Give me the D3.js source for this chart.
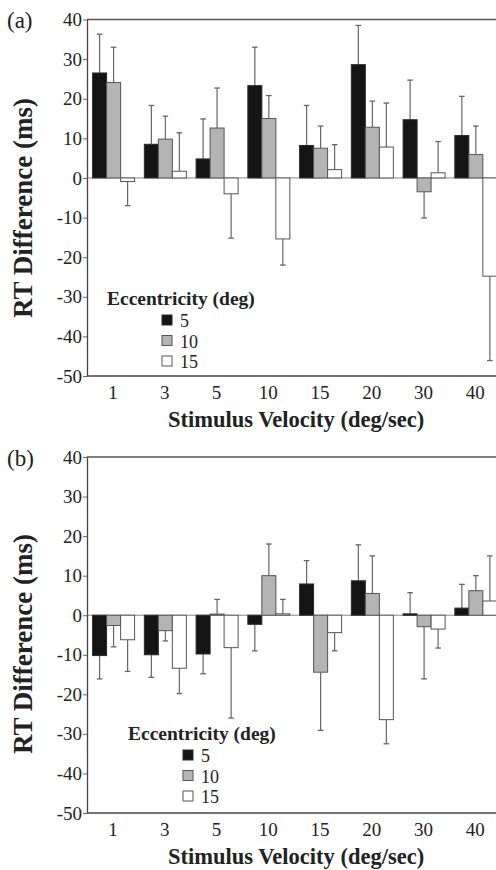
<!DOCTYPE html>
<html>
<head>
<meta charset="utf-8">
<script src="https://cdn.jsdelivr.net/npm/d3@7"></script>
<style>
  body { margin: 0; background: #fff; }
  svg text { font-family: "Liberation Serif", "Times New Roman", serif; }
  .tick text { font-size: 19px; fill: #222; }
  .axis-title { font-size: 22.5px; font-weight: bold; fill: #222; }
  .y-title { font-size: 27px; }
  .legend-title { font-size: 19.5px; font-weight: bold; fill: #222; }
  .legend-text { font-size: 18px; fill: #222; }
  .panel-label { font-size: 23px; fill: #222; }
</style>
</head>
<body>
<svg id="chart"></svg>
<script>
const velocities = ["1", "3", "5", "10", "15", "20", "30", "40"];
const eccentricities = ["5", "10", "15"];
const yTicks = [40, 30, 20, 10, 0, -10, -20, -30, -40, -50];

// panel (a) means and error sizes
const a5 = [26.5, 8.5, 4.8, 23.3, 8.2, 28.6, 14.7, 10.7];
const a10 = [24.1, 9.8, 12.6, 15.0, 7.5, 12.8, -3.5, 5.9];
const a15 = [-0.9, 1.7, -4.0, -15.4, 2.1, 7.8, 1.3, -24.8];
const aErr5 = [9.8, 9.8, 10.1, 9.7, 10.1, 9.9, 10.0, 9.9];
const aErr10 = [8.9, 5.8, 10.1, 5.8, 5.6, 6.6, 6.6, 7.2];
const aErr15 = [6.1, 9.7, 11.2, 6.6, 6.3, 11.1, 7.9, 21.3];

// panel (b)
const b5 = [-10.2, -10.0, -9.8, -2.3, 7.9, 8.7, 0.35, 1.8];
const b10 = [-2.6, -3.9, 0.3, 10.0, -14.4, 5.5, -2.9, 6.2];
const b15 = [-6.2, -13.4, -8.2, 0.35, -4.4, -26.4, -3.5, 3.6];
const bErr5 = [5.9, 5.7, 5.0, 6.7, 5.9, 9.1, 5.35, 6.0];
const bErr10 = [5.4, 2.6, 3.7, 8.0, 14.7, 9.5, 13.2, 3.8];
const bErr15 = [8.0, 6.4, 17.8, 3.65, 4.6, 6.1, 4.8, 11.4];

const colors = {"5": "#141414", "10": "#b4b4b4", "15": "#ffffff"};
const strokes = {"5": "#2a2a2a", "10": "#555", "15": "#555"};

const width = 496, height = 870;
const svg = d3.select("#chart").attr("width", width).attr("height", height);

function buildRows(means, errs) {
  const rows = [];
  velocities.forEach((v, i) => {
    eccentricities.forEach((e, j) => {
      rows.push({vel: v, ecc: e, value: means[j][i], err: errs[j][i]});
    });
  });
  return rows;
}

function drawPanel(opts) {
  const left = 87, right = 501;
  const g = svg.append("g");

  const x0 = d3.scaleBand().domain(velocities).range([left, right]);
  const x1 = d3.scaleBand().domain(eccentricities).range([5.6, 47.6]);
  const y = d3.scaleLinear().domain([-50, 40]).range([opts.bottom, opts.top]);

  const rows = buildRows(opts.means, opts.errs);

  // frame top
  g.append("line")
    .attr("x1", left).attr("x2", width)
    .attr("y1", y(40)).attr("y2", y(40))
    .attr("stroke", "#555").attr("stroke-width", 1.3);

  // zero line
  g.append("line")
    .attr("x1", left).attr("x2", width)
    .attr("y1", y(0)).attr("y2", y(0))
    .attr("stroke", "#888").attr("stroke-width", 1);

  // error bars (one sided, away from zero)
  const tip = d => y(d.value >= 0 ? d.value + d.err : d.value - d.err);
  const cx = d => x0(d.vel) + x1(d.ecc) + x1.bandwidth() / 2;
  const eb = g.selectAll(".err").data(rows).enter().append("g").attr("class", "err");
  eb.append("line")
    .attr("x1", cx).attr("x2", cx)
    .attr("y1", d => y(d.value))
    .attr("y2", tip)
    .attr("stroke", "#666").attr("stroke-width", 1.2);
  eb.append("line")
    .attr("x1", d => cx(d) - 2.8)
    .attr("x2", d => cx(d) + 2.8)
    .attr("y1", tip).attr("y2", tip)
    .attr("stroke", "#666").attr("stroke-width", 1.3);

  // bars
  g.selectAll(".bar").data(rows).enter().append("rect")
    .attr("class", "bar")
    .attr("x", d => x0(d.vel) + x1(d.ecc))
    .attr("width", x1.bandwidth())
    .attr("y", d => y(Math.max(0, d.value)))
    .attr("height", d => Math.abs(y(d.value) - y(0)))
    .attr("fill", d => colors[d.ecc])
    .attr("stroke", d => strokes[d.ecc])
    .attr("stroke-width", 1);

  // axes
  const yAxis = d3.axisLeft(y).tickValues(yTicks).tickFormat(d => String(d))
    .tickSizeInner(4).tickSizeOuter(0).tickPadding(1);
  const ya = g.append("g").attr("transform", "translate(" + left + ",0)").call(yAxis)
    .attr("font-family", null).attr("font-size", null);
  ya.select(".domain").attr("stroke", "#444").attr("stroke-width", 1.3);
  ya.selectAll(".tick line").attr("stroke", "#666");

  const xAxis = d3.axisBottom(x0).tickSize(0).tickPadding(10);
  const xa = g.append("g").attr("transform", "translate(0," + opts.bottom + ")").call(xAxis)
    .attr("font-family", null).attr("font-size", null);
  xa.select(".domain").remove();
  g.append("line")
    .attr("x1", left).attr("x2", width)
    .attr("y1", opts.bottom).attr("y2", opts.bottom)
    .attr("stroke", "#444").attr("stroke-width", 1.3);

  // titles
  g.append("text")
    .attr("class", "axis-title y-title")
    .attr("transform", "translate(32," + opts.yTitleY + ") rotate(-90)")
    .attr("text-anchor", "middle")
    .text("RT Difference (ms)");

  g.append("text")
    .attr("class", "axis-title")
    .attr("x", 296).attr("y", opts.xTitleY)
    .attr("text-anchor", "middle")
    .text("Stimulus Velocity (deg/sec)");

  g.append("text")
    .attr("class", "panel-label")
    .attr("x", 7).attr("y", opts.top + 8.5)
    .text(opts.label);

  // legend
  const lg = g.append("g").attr("transform", "translate(" + opts.legend[0] + "," + opts.legend[1] + ")");
  lg.append("text").attr("class", "legend-title").attr("x", 0).attr("y", 0).text("Eccentricity (deg)");
  eccentricities.forEach((e, i) => {
    lg.append("rect")
      .attr("x", 55).attr("y", 10 + i * 20.5)
      .attr("width", 10).attr("height", 10)
      .attr("fill", colors[e]).attr("stroke", strokes[e]);
    lg.append("text").attr("class", "legend-text")
      .attr("x", 73).attr("y", 22 + i * 20.5)
      .text(e);
  });
}

drawPanel({
  label: "(a)", top: 19.5, bottom: 376,
  means: [a5, a10, a15], errs: [aErr5, aErr10, aErr15],
  yTitleY: 208, xTitleY: 427, legend: [107, 305]
});

drawPanel({
  label: "(b)", top: 457, bottom: 813,
  means: [b5, b10, b15], errs: [bErr5, bErr10, bErr15],
  yTitleY: 644, xTitleY: 864, legend: [128, 740]
});
</script>
</body>
</html>
